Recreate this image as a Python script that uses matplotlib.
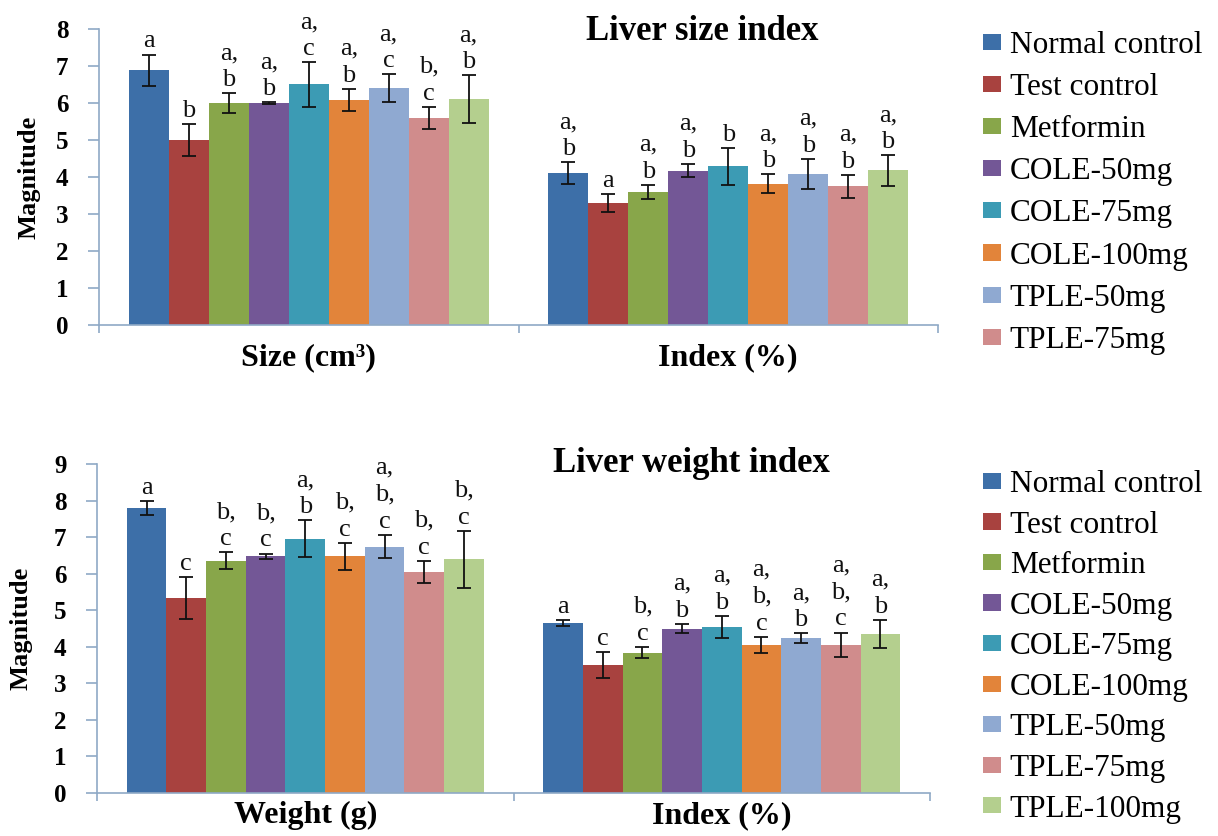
import matplotlib
matplotlib.use('Agg')
import matplotlib.pyplot as plt
import numpy as np
from matplotlib.patches import Patch

groups = ['Normal control', 'Test control', 'Metformin', 'COLE-50mg', 'COLE-75mg',
          'COLE-100mg', 'TPLE-50mg', 'TPLE-75mg', 'TPLE-100mg']
colors = ['#3D6FA8', '#A8423F', '#88A64A', '#735796', '#3C9BB4',
          '#E2843A', '#8FA9D1', '#D08C8C', '#B4CF8E']

size_categories = ['Size (cm³)', 'Index (%)']
weight_categories = ['Weight (g)', 'Index (%)']

size_vals = [6.89, 5.00, 6.00, 6.00, 6.50, 6.08, 6.40, 5.60, 6.11]
size_err = [0.42, 0.42, 0.26, 0.02, 0.60, 0.30, 0.38, 0.30, 0.64]
size_idx_vals = [4.11, 3.30, 3.60, 4.17, 4.29, 3.82, 4.08, 3.75, 4.18]
size_idx_err = [0.29, 0.25, 0.19, 0.18, 0.50, 0.25, 0.41, 0.31, 0.41]

weight_vals = [7.80, 5.34, 6.36, 6.47, 6.96, 6.47, 6.74, 6.05, 6.39]
weight_err = [0.19, 0.57, 0.22, 0.08, 0.50, 0.38, 0.32, 0.30, 0.78]
weight_idx_vals = [4.64, 3.50, 3.84, 4.50, 4.55, 4.05, 4.23, 4.06, 4.35]
weight_idx_err = [0.08, 0.36, 0.16, 0.13, 0.30, 0.22, 0.14, 0.33, 0.39]

size_letters = ['a', 'b', 'a,\nb', 'a,\nb', 'a,\nc', 'a,\nb', 'a,\nc', 'b,\nc', 'a,\nb']
size_idx_letters = ['a,\nb', 'a', 'a,\nb', 'a,\nb', 'b', 'a,\nb', 'a,\nb', 'a,\nb', 'a,\nb']
weight_letters = ['a', 'c', 'b,\nc', 'b,\nc', 'a,\nb', 'b,\nc', 'a,\nb,\nc', 'b,\nc', 'b,\nc']
weight_idx_letters = ['a', 'c', 'b,\nc', 'a,\nb', 'a,\nb', 'a,\nb,\nc', 'a,\nb', 'a,\nb,\nc', 'a,\nb']

plt.rcParams['font.family'] = ['Liberation Serif', 'DejaVu Serif']
AXC = '#8FA9C6'

fig = plt.figure(figsize=(12.18, 8.36), dpi=100)
W, H = 1218, 836

def make_panel(rect, cats, v1, e1, l1, v2, e2, l2, ymax, title, title_x, title_y,
               xlab_pad, ylab_x):
    ax = fig.add_axes(rect)
    n = len(groups)
    w = 1 / 10.5
    for i in range(n):
        xs = np.array([0, 1]) + (i - (n - 1) / 2) * w
        vals = [v1[i], v2[i]]
        errs = [e1[i], e2[i]]
        ax.bar(xs, vals, width=w, color=colors[i], edgecolor='none', zorder=2)
        ax.errorbar(xs, vals, yerr=errs, fmt='none', ecolor='#111111',
                    elinewidth=1.3, capsize=5, capthick=1.3, zorder=3)
        for x, v, e, lab in zip(xs, vals, errs, [l1[i], l2[i]]):
            ax.annotate(lab, (x, v + e), xytext=(0, 1.5), textcoords='offset points',
                        ha='center', va='bottom', multialignment='center',
                        fontsize=19, color='#111111', linespacing=1.3, zorder=4)
    ax.set_xlim(-0.5, 1.5)
    ax.set_ylim(0, ymax)
    ax.set_yticks(range(0, ymax + 1))
    ax.set_xticks([-0.5, 0.5, 1.5])
    ax.set_xticklabels([])
    ax.set_xticks([0, 1], minor=True)
    ax.set_xticklabels(cats, minor=True, fontsize=23, fontweight='bold')
    ax.tick_params(axis='x', which='minor', length=0, pad=xlab_pad)
    ax.tick_params(axis='x', which='major', length=6, color=AXC, width=1.2)
    ax.tick_params(axis='y', length=8, color=AXC, width=1.2, labelsize=18, pad=14)
    for lab in ax.get_yticklabels():
        lab.set_fontweight('bold')
    for s in ['top', 'right']:
        ax.spines[s].set_visible(False)
    for s in ['left', 'bottom']:
        ax.spines[s].set_color(AXC)
        ax.spines[s].set_linewidth(1.2)
    ax.set_ylabel('Magnitude', fontsize=19, fontweight='bold')
    ax.yaxis.set_label_coords(ylab_x, 0.5)
    ax.text(title_x, title_y, title, transform=ax.transAxes, ha='center', va='center',
            fontsize=25, fontweight='bold')
    return ax

ax1 = make_panel([99 / W, 1 - 325 / H, 839 / W, 296 / H], size_categories,
                 size_vals, size_err, size_letters, size_idx_vals, size_idx_err, size_idx_letters,
                 8, 'Liver size index', 0.719, 0.99, 13, -0.070)
ax2 = make_panel([97 / W, 1 - 793 / H, 833 / W, 329 / H], weight_categories,
                 weight_vals, weight_err, weight_letters, weight_idx_vals, weight_idx_err, weight_idx_letters,
                 9, 'Liver weight index', 0.714, 1.0, 6, -0.077)

def legend_for(n, ytop, spacing):
    handles = [Patch(facecolor=colors[i], edgecolor='none') for i in range(n)]
    fig.legend(handles, groups[:n], loc='upper left', bbox_to_anchor=(983 / W, ytop),
               frameon=False, fontsize=22.5, handlelength=0.58, handleheight=0.42,
               handletextpad=0.28, labelspacing=spacing, borderpad=0, borderaxespad=0)

legend_for(8, 1 - 31 / H, 0.42)
legend_for(9, 1 - 470 / H, 0.37)

fig.savefig('out.png', dpi=100, facecolor='white')
